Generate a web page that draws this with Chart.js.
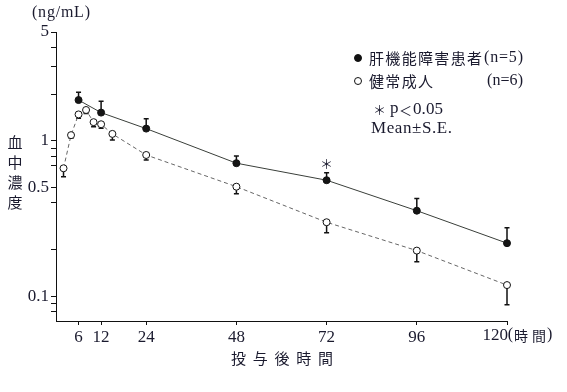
<!DOCTYPE html>
<html>
<head>
<meta charset="utf-8">
<script src="https://cdn.jsdelivr.net/npm/chart.js@4.4.0/dist/chart.umd.min.js"></script>
<style>
html, body { margin: 0; padding: 0; background: #fff; }
#wrap { width: 567px; height: 392px; }
</style>
</head>
<body>
<div id="wrap"><canvas id="pkChart" width="567" height="392"></canvas></div>
<script>
// hepatic impairment patients (n=5): mean and mean+SE
var hoursPatient = [6, 12, 24, 48, 72, 96, 120];
var meanPatient = [1.83, 1.52, 1.20, 0.72, 0.56, 0.357, 0.221];
var upperPatient = [2.05, 1.80, 1.39, 0.80, 0.626, 0.427, 0.278];

// healthy adults (n=6): mean and mean-SE
var hoursHealthy = [2, 4, 6, 8, 10, 12, 15, 24, 48, 72, 96, 120];
var meanHealthy = [0.668, 1.09, 1.48, 1.58, 1.32, 1.28, 1.11, 0.813, 0.509, 0.301, 0.198, 0.119];
var lowerHealthy = [0.59, 1.04, 1.40, 1.50, 1.235, 1.206, 1.015, 0.755, 0.458, 0.258, 0.168, 0.089];

var xTicks = [6, 12, 24, 48, 72, 96, 120];
var yTicks = [0.08, 0.09, 0.1, 0.2, 0.4, 0.5, 0.7, 0.8, 0.9, 1, 2, 3, 4, 5];
var yLabels = [0.1, 0.5, 1, 5];
var significantHours = [72];

var serif = "'Liberation Serif', 'Noto Sans CJK JP', serif";
var cjk = "'Noto Sans CJK JP', sans-serif";
var ink = "#1a1a2e";

function toPoints(xs, ys) {
    var pts = [];
    for (var i = 0; i < xs.length; i++) pts.push({x: xs[i], y: ys[i]});
    return pts;
}

// draw a string char by char so it fills a given width
function spreadText(ctx, text, x, y, width) {
    var chars = Array.from(text);
    var total = 0;
    for (var i = 0; i < chars.length; i++) total += ctx.measureText(chars[i]).width;
    var gap = chars.length > 1 ? (width - total) / (chars.length - 1) : 0;
    ctx.textAlign = "left";
    for (var j = 0; j < chars.length; j++) {
        ctx.fillText(chars[j], x, y);
        x += ctx.measureText(chars[j]).width + gap;
    }
}

var errorBars = {
    id: "errorBars",
    beforeDatasetsDraw: function(chart) {
        var ctx = chart.ctx, xs = chart.scales.x, ys = chart.scales.y;
        ctx.save();
        ctx.strokeStyle = "#111";
        ctx.lineWidth = 1.5;
        function bar(h, from, to) {
            var px = xs.getPixelForValue(h);
            var p1 = ys.getPixelForValue(from), p2 = ys.getPixelForValue(to);
            ctx.beginPath();
            ctx.moveTo(px, p1); ctx.lineTo(px, p2);
            ctx.moveTo(px - 2.5, p2); ctx.lineTo(px + 2.5, p2);
            ctx.stroke();
        }
        for (var i = 0; i < hoursPatient.length; i++) bar(hoursPatient[i], meanPatient[i], upperPatient[i]);
        for (var k = 0; k < hoursHealthy.length; k++) bar(hoursHealthy[k], meanHealthy[k], lowerHealthy[k]);
        ctx.restore();
    }
};

var annotations = {
    id: "annotations",
    afterDraw: function(chart) {
        var ctx = chart.ctx, xs = chart.scales.x, ys = chart.scales.y;
        ctx.save();
        ctx.fillStyle = ink;
        ctx.textBaseline = "middle";

        // unit
        ctx.font = "16px " + serif;
        spreadText(ctx, "(ng/mL)", 32, 13, 58);

        // y title, vertical
        ctx.font = "15px " + cjk;
        ctx.textAlign = "center";
        var yTitle = ["血", "中", "濃", "度"];
        for (var i = 0; i < yTitle.length; i++) ctx.fillText(yTitle[i], 15, 142 + i * 20);

        // x title
        ctx.font = "15px " + cjk;
        spreadText(ctx, "投与後時間", 231, 358, 102);

        // last x label with unit
        var px120 = xs.getPixelForValue(120);
        ctx.font = "17px " + serif;
        ctx.textAlign = "right";
        ctx.fillText("120", px120 + 1, 336);
        ctx.font = "16px " + serif;
        ctx.fillText("(", px120 + 6, 335);
        ctx.font = "14px " + cjk;
        spreadText(ctx, "時間", px120 + 7, 336, 32);
        ctx.font = "16px " + serif;
        ctx.textAlign = "left";
        ctx.fillText(")", px120 + 40, 335);

        // significance mark
        ctx.font = "13px " + cjk;
        ctx.textAlign = "center";
        for (var s = 0; s < significantHours.length; s++) {
            var idx = hoursPatient.indexOf(significantHours[s]);
            ctx.fillText("＊", xs.getPixelForValue(significantHours[s]), ys.getPixelForValue(upperPatient[idx]) - 9);
        }

        // legend
        ctx.fillStyle = "#111";
        ctx.strokeStyle = "#111";
        ctx.lineWidth = 1;
        ctx.beginPath(); ctx.arc(358, 58, 3.5, 0, Math.PI * 2); ctx.fill(); ctx.stroke();
        ctx.fillStyle = "#fff";
        ctx.beginPath(); ctx.arc(358, 81, 3.5, 0, Math.PI * 2); ctx.fill(); ctx.stroke();

        ctx.fillStyle = ink;
        ctx.font = "15px " + cjk;
        spreadText(ctx, "肝機能障害患者", 369, 58, 113);
        spreadText(ctx, "健常成人", 369, 81, 64);
        ctx.font = "16px " + serif;
        spreadText(ctx, "(n=5)", 484, 58, 39);
        spreadText(ctx, "(n=6)", 487, 81, 36);

        ctx.font = "13px " + cjk;
        ctx.textAlign = "left";
        ctx.fillText("＊", 373, 110);
        ctx.font = "17px " + serif;
        ctx.fillText("p", 390, 109);
        ctx.font = "13px " + cjk;
        ctx.fillText("＜", 399, 110);
        ctx.font = "17px " + serif;
        spreadText(ctx, "0.05", 413, 110, 30);
        spreadText(ctx, "Mean±S.E.", 371, 129, 81);
        ctx.restore();
    }
};

var ctx = document.getElementById("pkChart").getContext("2d");
var chartInstance = new Chart(ctx, {
    type: "scatter",
    data: {
        datasets: [{
            label: "肝機能障害患者(n=5)",
            data: toPoints(hoursPatient, meanPatient),
            showLine: true,
            clip: false,
            borderColor: "#3a3f3a",
            borderWidth: 1,
            pointRadius: 3.5,
            pointBackgroundColor: "#151515",
            pointBorderColor: "#111",
            pointBorderWidth: 1
        }, {
            label: "健常成人(n=6)",
            data: toPoints(hoursHealthy, meanHealthy),
            showLine: true,
            clip: false,
            borderColor: "#666",
            borderWidth: 1,
            borderDash: [4, 3],
            pointRadius: 3.5,
            pointBackgroundColor: "#fff",
            pointBorderColor: "#111",
            pointBorderWidth: 1
        }]
    },
    options: {
        responsive: false,
        animation: false,
        layout: { padding: { left: 0, top: 32, right: 60, bottom: 41 } },
        plugins: { legend: { display: false }, tooltip: { enabled: false } },
        scales: {
            x: {
                type: "linear",
                min: 0,
                max: 120,
                afterBuildTicks: function(scale) {
                    scale.ticks = xTicks.map(function(v) { return {value: v}; });
                },
                afterFit: function(scale) { scale.height = 30; },
                grid: { drawOnChartArea: false, drawTicks: true, tickLength: 4, color: "#111" },
                border: { display: true, color: "#111", width: 1 },
                ticks: {
                    autoSkip: false,
                    maxRotation: 0,
                    padding: 2,
                    color: ink,
                    font: { family: serif, size: 17 },
                    callback: function(v) { return v === 120 ? "" : String(v); }
                }
            },
            y: {
                type: "logarithmic",
                min: 0.07,
                max: 5,
                afterBuildTicks: function(scale) {
                    scale.ticks = yTicks.map(function(v) { return {value: v}; });
                },
                afterFit: function(scale) { scale.width = 56; },
                grid: { drawOnChartArea: false, drawTicks: true, tickLength: 5, color: "#111" },
                border: { display: true, color: "#111", width: 1 },
                ticks: {
                    autoSkip: false,
                    padding: 2,
                    color: ink,
                    font: { family: serif, size: 17 },
                    callback: function(v) { return yLabels.indexOf(v) >= 0 ? String(v) : ""; }
                }
            }
        }
    },
    plugins: [errorBars, annotations]
});
</script>
</body>
</html>
